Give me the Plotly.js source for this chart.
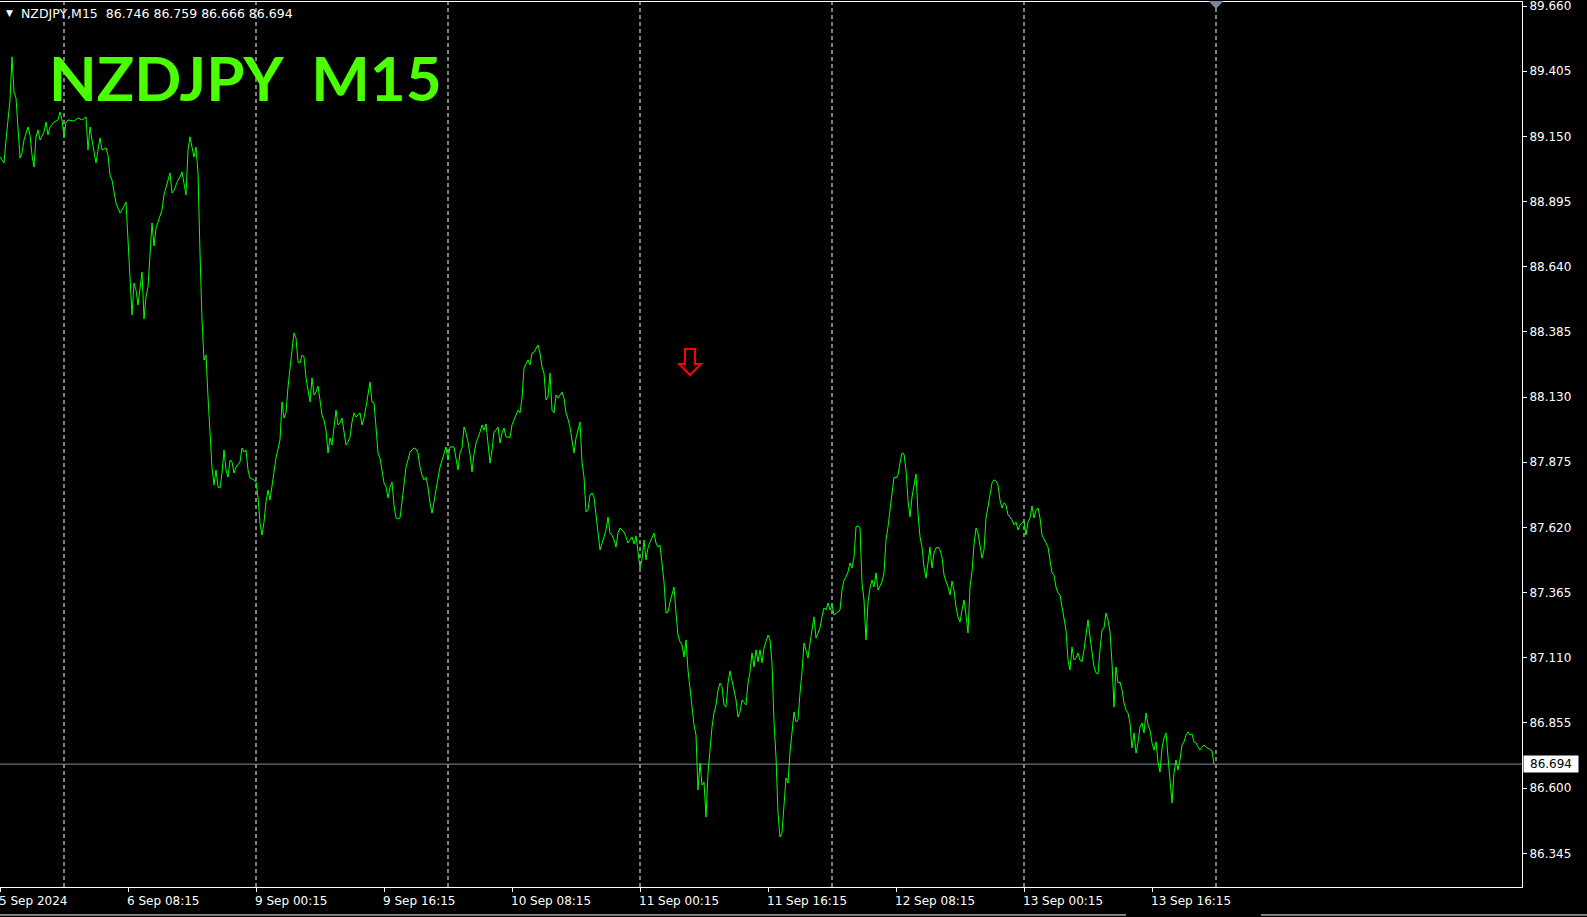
<!DOCTYPE html>
<html><head><meta charset="utf-8">
<script src="https://cdn.plot.ly/plotly-3.0.1.min.js"></script>
<style>html,body{margin:0;padding:0;background:#000;overflow:hidden}#chart{width:1587px;height:917px}</style>
</head><body><div id="chart"></div>
<script>
const symbol = "NZDJPY";
const timeframe = "M15";
const lastBar = {open: 86.746, high: 86.759, low: 86.666, close: 86.694};

const bars = [0,2,3,4,5,6,7,8,9,10,11,12,14,15,16,17,18,19,20,22,23,24,25,27,29,30,31,32,33,34,37,39,41,43,44,45,46,47,48,49,50,51,52,53,54,55,56,57,58,60,61,63,64,65,66,67,68,69,70,71,72,73,74,75,76,77,78,79,81,82,83,84,85,86,87,89,90,91,92,93,94,95,96,97,98,99,
100,101,102,103,104,105,106,107,108,109,110,111,112,113,114,115,116,117,118,120,121,122,123,124,125,127,128,129,130,131,132,133,134,135,136,137,138,140,141,142,143,144,145,146,147,148,149,
150,151,152,153,154,155,156,157,158,159,160,161,162,163,164,165,166,167,168,169,170,171,172,173,174,175,176,177,178,180,181,182,183,184,185,186,187,188,189,190,191,192,193,194,195,196,197,198,199,
200,201,202,203,204,205,207,208,209,210,211,212,213,214,215,216,217,218,219,220,222,223,224,225,227,228,229,230,231,232,233,234,235,236,237,238,239,240,241,242,243,244,245,246,247,248,249,
250,251,252,253,254,255,256,257,259,260,261,262,263,264,265,266,267,269,270,271,272,273,274,275,276,277,278,279,280,281,282,283,284,285,286,287,288,289,290,291,292,293,294,295,296,297,298,299,
300,302,303,304,305,306,307,308,309,310,312,313,314,315,316,317,318,319,320,321,322,323,324,325,326,327,328,329,330,331,332,333,334,335,336,337,338,339,340,341,342,343,344,345,346,347,348,349,
350,351,352,353,354,355,356,357,358,359,360,361,362,363,364,365,366,367,368,369,370,371,372,373,374,375,376,377,378,379,380,381,382,384,385,386,387,388,389,390,391,392,393,394,395,396,397,398,399,
400,401,402,403,404,405,406,407,408,410,411,412,413,414,415,416,417,418,419,420,421,422,423,424,425,426,427,428,429,430,431,432,433,434,435,436,437,438,439,440,441,442,443,444,445,446,447,448,449,
450,451,452,453,454,455,456,457,458,459,460,461,462,463,464,465,466,467,468,469,470,471,472,473,474,475,476,477,478,479,480,481,482,483,484,485,486,487,488,489,490,491,492,493,494,495,496,497,498,499,
500,501,502,503,504,505,506,507,508,509,510,511,512,513,514,515,516,517,518,519,520,521,522,523,524,525,526,527,528,529,530,531,532,533,534,535,536,537,538,539,540,541,542,543,544,545,546,547,548,549,
550,551,552,553,554,555,556,557,558,559,560,561,562,563,564,565,566,567,568,569,570,571,572,573,574,575,576,577,578,579,580,581,582,583,584,585,586,587,588,589,590,591,592,593,594,595,596,597,598,599,
600,601,602,603,605,606,607];

const closes = [89.069,89.046,89.136,89.226,89.292,89.461,89.324,89.300,89.175,89.065,89.085,89.136,89.187,89.155,89.077,89.030,89.148,89.175,89.136,89.167,89.206,89.155,89.187,89.206,89.214,89.245,89.214,89.148,89.206,89.214,89.210,89.222,89.214,89.226,89.097,89.187,89.136,89.097,89.046,89.097,89.144,89.097,89.101,89.105,89.077,88.999,88.979,88.940,88.889,88.850,88.862,88.893,88.745,88.588,88.451,88.576,88.549,88.490,88.561,88.619,88.436,88.522,88.561,88.705,88.811,88.721,88.792,88.815,88.862,88.921,88.952,88.987,89.007,88.928,88.940,88.979,88.991,89.011,88.968,88.921,89.097,89.148,89.108,89.069,89.108,89.007,
88.694,88.432,88.275,88.295,88.130,87.982,87.853,87.786,87.845,87.778,87.774,87.833,87.923,87.845,87.817,87.884,87.876,87.833,87.856,87.876,87.931,87.915,87.923,87.845,87.813,87.806,87.798,87.739,87.637,87.590,87.641,87.720,87.766,87.727,87.778,87.837,87.892,87.962,88.111,88.048,88.068,88.169,88.256,88.314,88.381,88.361,88.267,
88.263,88.295,88.287,88.205,88.150,88.111,88.205,88.138,88.150,88.173,88.119,88.060,88.040,88.001,87.911,87.970,87.942,88.001,88.079,88.021,88.029,88.048,87.993,87.942,87.954,87.974,88.032,88.068,88.052,88.068,88.021,88.048,88.091,88.138,88.189,88.111,88.107,88.013,87.911,87.892,87.845,87.794,87.778,87.735,87.778,87.798,87.708,87.657,87.653,
87.657,87.720,87.794,87.856,87.884,87.915,87.931,87.927,87.911,87.856,87.825,87.806,87.817,87.778,87.716,87.676,87.720,87.774,87.813,87.856,87.915,87.935,87.884,87.935,87.935,87.896,87.845,87.911,87.931,88.013,87.989,87.954,87.907,87.837,87.907,87.950,87.970,87.993,88.021,88.001,88.025,87.931,87.872,87.923,87.993,88.001,88.013,
87.950,87.989,88.009,87.974,87.974,87.970,88.021,88.040,88.079,88.068,88.126,88.244,88.263,88.275,88.256,88.302,88.306,88.334,88.302,88.248,88.224,88.119,88.130,88.224,88.079,88.068,88.138,88.126,88.138,88.150,88.126,88.068,88.044,88.013,87.962,87.911,87.970,88.001,88.032,87.876,87.817,87.680,87.688,87.747,87.755,87.739,87.669,87.579,
87.532,87.583,87.610,87.661,87.598,87.590,87.571,87.543,87.598,87.618,87.602,87.583,87.559,87.571,87.583,87.555,87.587,87.524,87.461,87.493,87.571,87.493,87.540,87.563,87.583,87.598,87.559,87.543,87.551,87.481,87.407,87.285,87.289,87.328,87.363,87.387,87.285,87.199,87.172,87.160,87.113,87.180,87.062,86.992,86.933,86.847,86.808,86.593,
86.698,86.612,86.624,86.487,86.659,86.749,86.839,86.894,86.925,86.984,87.011,86.996,86.925,86.917,87.011,87.058,87.023,86.976,86.945,86.878,86.898,86.945,86.937,86.925,87.011,87.054,87.129,87.074,87.141,87.094,87.141,87.090,87.148,87.199,87.180,87.090,86.859,86.722,86.503,86.409,86.425,86.522,86.640,86.620,86.741,86.816,86.898,86.859,86.867,
86.972,87.054,87.168,87.141,87.109,87.168,87.227,87.270,87.187,87.227,87.270,87.305,87.297,87.324,87.297,87.317,87.277,87.285,87.289,87.297,87.375,87.414,87.426,87.446,87.481,87.461,87.504,87.622,87.626,87.618,87.403,87.336,87.180,87.328,87.383,87.414,87.387,87.442,87.375,87.395,87.407,87.442,87.571,87.622,87.688,87.759,87.817,87.813,87.825,
87.872,87.911,87.907,87.845,87.727,87.661,87.739,87.794,87.829,87.676,87.583,87.543,87.465,87.422,87.485,87.543,87.461,87.520,87.540,87.543,87.532,87.504,87.434,87.414,87.387,87.356,87.410,87.375,87.309,87.270,87.250,87.297,87.336,87.277,87.207,87.387,87.446,87.551,87.618,87.598,87.540,87.500,87.532,87.657,87.700,87.747,87.794,87.806,87.802,87.786,
87.727,87.696,87.716,87.708,87.669,87.661,87.649,87.630,87.641,87.610,87.630,87.637,87.645,87.590,87.641,87.657,87.704,87.657,87.688,87.696,87.657,87.590,87.571,87.559,87.543,87.481,87.442,87.434,87.387,87.363,87.356,87.309,87.266,87.219,87.101,87.062,87.152,87.101,87.109,87.129,87.101,87.094,87.141,87.191,87.258,87.191,87.141,87.074,87.051,87.047,
87.141,87.219,87.227,87.285,87.258,87.211,87.090,86.917,87.074,87.011,87.015,86.984,86.933,86.906,86.894,86.855,86.757,86.816,86.737,86.777,86.839,86.855,86.816,86.894,86.847,86.827,86.777,86.749,86.781,86.702,86.663,86.757,86.796,86.816,86.722,86.632,86.542,86.659,86.710,86.671,86.710,86.769,86.781,86.808,86.820,86.808,86.812,86.781,86.777,86.761,
86.749,86.761,86.769,86.761,86.749,86.746,86.694];

const tickBars = [0,64,128,192,256,320,384,448,512,576];
const tickLabels = ["5 Sep 2024","6 Sep 08:15","9 Sep 00:15","9 Sep 16:15","10 Sep 08:15","11 Sep 00:15","11 Sep 16:15","12 Sep 08:15","13 Sep 00:15","13 Sep 16:15"];
const priceTicks = [86.345,86.600,86.855,87.110,87.365,87.620,87.875,88.130,88.385,88.640,88.895,89.150,89.405,89.660];
const separatorBars = [32,128,224,320,416,512,608];
const arrowBar = 345, arrowPrice = 88.267;
const shiftBar = 608;

const FONT = 'DejaVu Sans';
const shapes = separatorBars.map(b => ({type:'line', xref:'x', yref:'paper', x0:b, x1:b, y0:0, y1:1, layer:'below',
  line:{color:'#ffffff', width:1, dash:'4px,3px'}}));
shapes.push({type:'line', xref:'paper', yref:'y', x0:0, x1:1, y0:lastBar.close, y1:lastBar.close, layer:'below',
  line:{color:'#7f8c99', width:1}});
shapes.push({type:'line', xref:'paper', yref:'paper', x0:0, x1:1126/1522, y0:-0.0316, y1:-0.0316, line:{color:'#ffffff', width:1}});
shapes.push({type:'line', xref:'paper', yref:'paper', x0:1261/1522, x1:1587/1522, y0:-0.0316, y1:-0.0316, line:{color:'#ffffff', width:1}});
// hollow down arrow (sell signal) anchored at bar/price
shapes.push({type:'path', xref:'x', yref:'y', xsizemode:'pixel', ysizemode:'pixel', xanchor:arrowBar, yanchor:arrowPrice,
  path:'M -5,13 L 5,13 L 5,-2 L 11,-2 L 0,-13 L -11,-2 L -5,-2 Z', line:{color:'#ff0000', width:2}, fillcolor:'rgba(0,0,0,0)'});
// chart shift marker
shapes.push({type:'path', xref:'x', yref:'paper', xsizemode:'pixel', ysizemode:'pixel', xanchor:shiftBar, yanchor:1,
  path:'M -7.5,1 L 7.5,1 L 0,-7 Z', line:{color:'#778899', width:0}, fillcolor:'#778899'});

const annotations = [
  {xref:'paper', yref:'paper', x:0.0023, y:0.9875, xanchor:'left', yanchor:'middle', showarrow:false,
   text:'▼', font:{family:FONT, size:9, color:'#ffffff'}},
  {xref:'paper', yref:'paper', x:0.0128, y:0.9875, xanchor:'left', yanchor:'middle', showarrow:false,
   text: symbol + ',' + timeframe + '  ' + [lastBar.open, lastBar.high, lastBar.low, lastBar.close].map(v=>v.toFixed(3)).join(' '),
   font:{family:FONT, size:12.5, color:'#ffffff'}},
  {xref:'paper', yref:'paper', x:0.0309, y:0.9155, xanchor:'left', yanchor:'middle', showarrow:false,
   text: symbol + '  ' + timeframe, font:{family:'Lato', size:62, color:'#4cff00', weight:700}},
  {xref:'paper', yref:'y', x:1, y:lastBar.close, xanchor:'left', yanchor:'middle', showarrow:false, xshift:1,
   text:lastBar.close.toFixed(3), bgcolor:'#ffffff', width:52, height:14, borderpad:1, align:'center',
   font:{family:FONT, size:12, color:'#000000'}}
];

const trace = {x:bars, y:closes, type:'scatter', mode:'lines', line:{color:'#00ff00', width:1}, hoverinfo:'skip'};

const layout = {
  width:1587, height:917, margin:{l:0, r:65, t:2, b:30},
  paper_bgcolor:'#000000', plot_bgcolor:'#000000', showlegend:false,
  xaxis:{range:[0,761], tickmode:'array', tickvals:tickBars, ticktext:tickLabels, ticks:'outside', ticklen:4,
    tickcolor:'#ffffff', showgrid:false, zeroline:false, showline:true, linecolor:'#ffffff', linewidth:1, mirror:true,
    ticklabelposition:'outside right', ticklabelstandoff:3, ticklabelshift:-2, ticklabeloverflow:'allow',
    tickfont:{family:FONT, size:12, color:'#ffffff'}},
  yaxis:{side:'right', range:[86.2132, 89.6757], tickmode:'array', tickvals:priceTicks,
    ticktext:priceTicks.map(v=>v.toFixed(3)), ticks:'outside', ticklen:4, tickcolor:'#ffffff',
    showgrid:false, zeroline:false, showline:true, linecolor:'#ffffff', linewidth:1, ticklabeloverflow:'allow',
    tickfont:{family:FONT, size:12, color:'#ffffff'}},
  shapes:shapes, annotations:annotations
};
Plotly.newPlot('chart', [trace], layout, {displayModeBar:false, staticPlot:true});
</script></body></html>
